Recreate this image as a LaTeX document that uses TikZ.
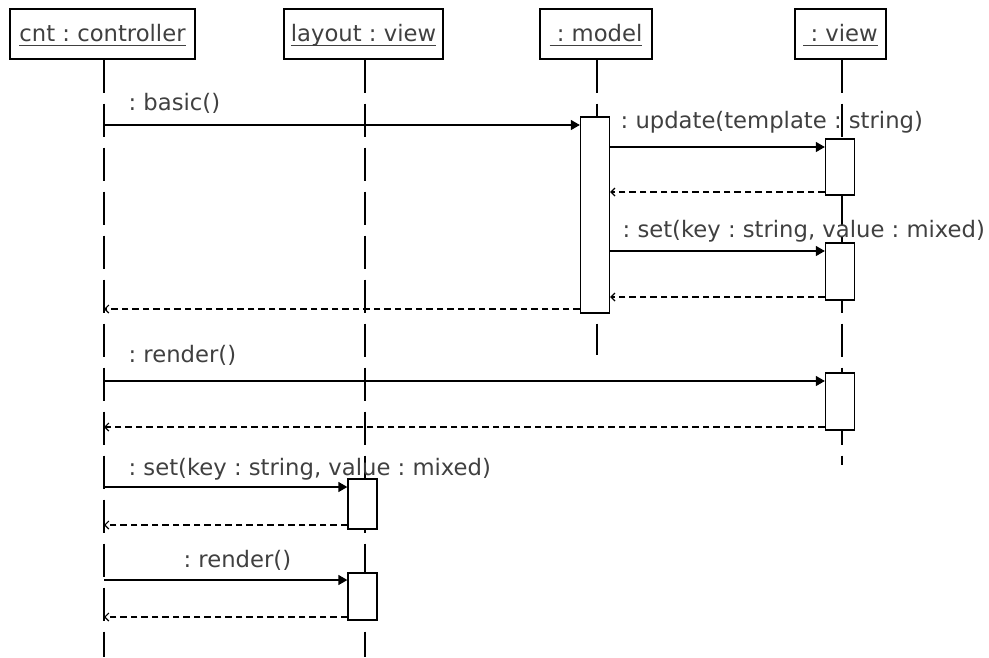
\documentclass[tikz,border=0pt]{standalone}
\usepackage{fontspec}
\setmainfont{DejaVu Sans}
\frenchspacing
\usetikzlibrary{arrows.meta}
\newcommand{\objname}[1]{\underline{\smash{#1}\rule[-3pt]{0pt}{22pt}}}
\begin{document}
\begin{tikzpicture}[x=1pt,y=-1pt,line width=1.3pt,
  txt/.style={text=black!75,font=\fontsize{22.7}{26}\selectfont,inner sep=0pt},
  head/.style={draw,fill=white,minimum height=50pt,inner sep=0pt,txt},
  life/.style={dash pattern=on 33pt off 11pt},
  act/.style={draw,fill=white,minimum width=29pt,inner sep=0pt},
  call/.style={-{Triangle[length=9pt,width=10pt]}},
  ret/.style={dash pattern=on 6.5pt off 4pt,-{Straight Barb[length=4pt,width=8pt,line width=1.2pt]}},
  lbl/.style={txt,anchor=base west}]
\useasboundingbox (0,0) rectangle (989,657);

% objects
\node[head,minimum width=185pt] (cnt) at (102.5,34) {\objname{cnt : controller}};
\node[head,minimum width=159pt] (lay) at (363.5,34) {\objname{layout : view}};
\node[head,minimum width=112pt] (mod) at (596,34) {\objname{\ : model}};
\node[head,minimum width=91pt]  (vw)  at (840.5,34) {\objname{\ : view}};

% lifelines
\coordinate (cntE) at (104,657);
\coordinate (layE) at (365,657);
\coordinate (modE) at (597,355);
\coordinate (vwE)  at (842,465);
\draw[life] (cnt.south -| cntE) -- (cntE);
\draw[life] (lay.south -| layE) -- (layE);
\draw[life] (mod.south -| modE) -- (modE);
\draw[life] (vw.south -| vwE) -- (vwE);

% activations
\node[act,minimum height=196pt] (ma) at (595,215) {};
\node[act,minimum height=56pt] (va1) at (840,167) {};
\node[act,minimum height=57pt] (va2) at (840,271.5) {};
\node[act,minimum height=57pt] (va3) at (840,401.5) {};
\node[act,minimum height=50pt] (la1) at (362.5,504) {};
\node[act,minimum height=47pt] (la2) at (362.5,596.5) {};

% points on the controller lifeline
\coordinate (c1) at (104,125);
\coordinate (c2) at (104,309);
\coordinate (c3) at (104,381);
\coordinate (c4) at (104,427);
\coordinate (c5) at (104,487);
\coordinate (c6) at (104,525);
\coordinate (c7) at (104,580);
\coordinate (c8) at (104,617);
\coordinate (m1) at (609,147);
\coordinate (m2) at (609,192);
\coordinate (m3) at (609,251);
\coordinate (m4) at (609,297);

% messages
\draw[call] (c1) -- (ma.west |- c1);
\node[lbl] (l1) at (128,110) {: basic()};

\draw[call] (ma.east |- m1) -- (va1.west |- m1);
\node[lbl] (l2) at (620,128) {: update(template : string)};
\draw[ret] (va1.west |- m2) -- (ma.east |- m2);

\draw[call] (ma.east |- m3) -- (va2.west |- m3);
\node[lbl] (l3) at (622,237) {: set(key : string, value : mixed)};
\draw[ret] (va2.west |- m4) -- (ma.east |- m4);

\draw[ret] (ma.west |- c2) -- (c2);

\draw[call] (c3) -- (va3.west |- c3);
\node[lbl] (l4) at (128,362) {: render()};
\draw[ret] (va3.west |- c4) -- (c4);

\draw[call] (c5) -- (la1.west |- c5);
\node[lbl] (l5) at (128,475) {: set(key : string, value : mixed)};
\draw[ret] (la1.west |- c6) -- (c6);

\draw[call] (c7) -- (la2.west |- c7);
\node[lbl] (l6) at (183,567) {: render()};
\draw[ret] (la2.west |- c8) -- (c8);
\end{tikzpicture}
\end{document}
